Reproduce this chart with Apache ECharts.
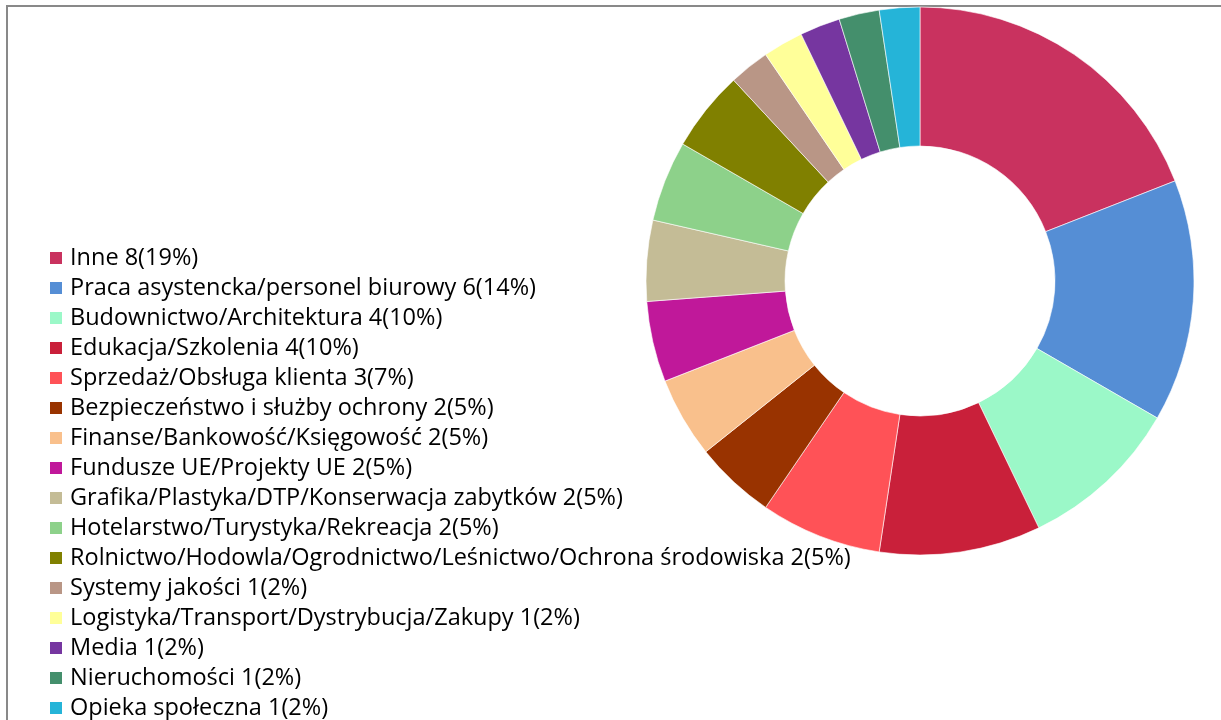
<!DOCTYPE html>
<html>
<head>
<meta charset="utf-8">
<script src="https://cdn.jsdelivr.net/npm/echarts@6/dist/echarts.min.js"></script>
<style>
html,body{margin:0;padding:0;background:#fff;}
#chart{width:1221px;height:720px;}
</style>
</head>
<body>
<div id="chart"></div>
<script>
const categories = [
  "Inne",
  "Praca asystencka/personel biurowy",
  "Budownictwo/Architektura",
  "Edukacja/Szkolenia",
  "Sprzedaż/Obsługa klienta",
  "Bezpieczeństwo i służby ochrony",
  "Finanse/Bankowość/Księgowość",
  "Fundusze UE/Projekty UE",
  "Grafika/Plastyka/DTP/Konserwacja zabytków",
  "Hotelarstwo/Turystyka/Rekreacja",
  "Rolnictwo/Hodowla/Ogrodnictwo/Leśnictwo/Ochrona środowiska",
  "Systemy jakości",
  "Logistyka/Transport/Dystrybucja/Zakupy",
  "Media",
  "Nieruchomości",
  "Opieka społeczna"
];
const values = [8, 6, 4, 4, 3, 2, 2, 2, 2, 2, 2, 1, 1, 1, 1, 1];
const colors = [
  "#C9325F", "#558ED5", "#9BF8C8", "#C9203A", "#FF5257", "#993300",
  "#F9C08C", "#C0189A", "#C4BC96", "#8DD18A", "#808000", "#B99686",
  "#FFFF99", "#7636A0", "#448F6C", "#25B4D8"
];

const total = values.reduce((a, b) => a + b, 0);
const lookup = {};
categories.forEach((c, i) => { lookup[c] = values[i]; });

const chart = echarts.init(document.getElementById('chart'));
chart.setOption({
  animation: false,
  color: colors,
  graphic: [{
    type: 'rect',
    shape: { x: 7, y: 6, width: 1300, height: 800 },
    style: { fill: 'none', stroke: '#898989', lineWidth: 2 },
    silent: true
  }],
  legend: {
    orient: 'vertical',
    left: 43,
    top: 241,
    height: 600,
    icon: 'rect',
    itemWidth: 14,
    itemHeight: 14,
    itemGap: 6,
    textStyle: {
      fontFamily: 'Open Sans, sans-serif',
      fontSize: 23.5,
      color: '#000',
      lineHeight: 24,
      padding: [0, 0, 0, 2]
    },
    formatter: function (name) {
      const v = lookup[name];
      return name + ' ' + v + '(' + Math.round(v / total * 100) + '%)';
    },
    data: categories
  },
  series: [{
    type: 'pie',
    center: [920, 281],
    radius: [135, 274],
    startAngle: 90,
    clockwise: true,
    label: { show: false },
    labelLine: { show: false },
    itemStyle: { borderColor: '#ffffff', borderWidth: 0.6 },
    emphasis: { disabled: true },
    data: categories.map((c, i) => ({ name: c, value: values[i] }))
  }]
});
</script>
</body>
</html>
